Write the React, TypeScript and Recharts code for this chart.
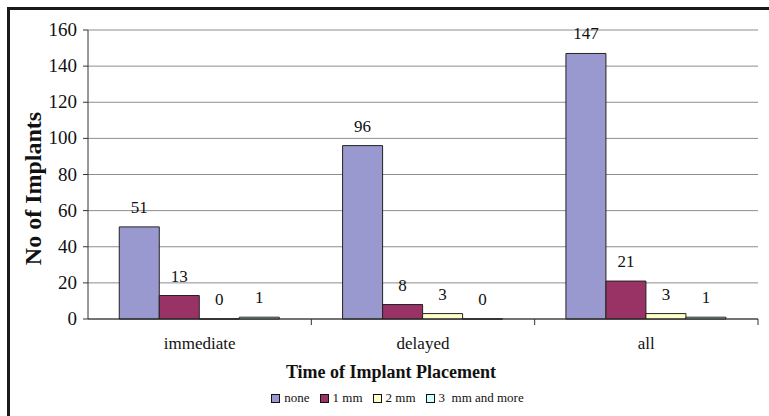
import React from 'react';
import {
  BarChart,
  Bar,
  XAxis,
  YAxis,
  CartesianGrid,
  Legend,
  LabelList,
} from 'recharts';

const placements = ['immediate', 'delayed', 'all'];
const noneValues = [51, 96, 147];
const oneMmValues = [13, 8, 21];
const twoMmValues = [0, 3, 3];
const threeMmValues = [1, 0, 1];
const yTicks = [0, 20, 40, 60, 80, 100, 120, 140, 160];

const seriesInfo = [
  { key: 'none', name: 'none', color: '#9999d0' },
  { key: 'one', name: '1 mm', color: '#993366' },
  { key: 'two', name: '2 mm', color: '#ffffcc' },
  { key: 'three', name: '3\u00a0 mm and more', color: '#ccffff' },
];

const data = placements.map((p, i) => ({
  placement: p,
  none: noneValues[i],
  one: oneMmValues[i],
  two: twoMmValues[i],
  three: threeMmValues[i],
}));

const FONT = 'Liberation Serif, serif';

// category label in the middle, tick mark on the right edge of the band
const CategoryTick = (props: any) => {
  const { x, y, payload } = props;
  const half = payload && payload.offset ? payload.offset : 670 / 6;
  return (
    <g>
      <line x1={x + half} x2={x + half} y1={y - 8} y2={y - 2} stroke="#333" />
      <text x={x} y={y + 22} textAnchor="middle" fontFamily={FONT} fontSize={17} fill="#111">
        {payload.value}
      </text>
    </g>
  );
};

const ValueTick = (props: any) => {
  const { x, y, payload } = props;
  return (
    <text x={x - 4} y={y + 6} textAnchor="end" fontFamily={FONT} fontSize={19} fill="#111">
      {payload.value}
    </text>
  );
};

const BarValue = (props: any) => {
  const { x, y, width, value } = props;
  return (
    <text x={x + width / 2} y={y - 14} textAnchor="middle" fontFamily={FONT} fontSize={17} fill="#111">
      {value}
    </text>
  );
};

const YLabel = (props: any) => {
  const vb = props.viewBox || { x: 0, y: 30, height: 288 };
  const cx = vb.x + 41;
  const cy = vb.y + vb.height / 2 + 14;
  return (
    <text
      x={cx}
      y={cy}
      transform={`rotate(-90 ${cx} ${cy})`}
      textAnchor="middle"
      fontFamily={FONT}
      fontWeight="bold"
      fontSize={24}
      fill="#111"
    >
      No of Implants
    </text>
  );
};

const XLabel = (props: any) => {
  const vb = props.viewBox || { x: 88, y: 318, width: 670 };
  return (
    <text
      x={vb.x + vb.width / 2 - 32}
      y={vb.y + 59}
      textAnchor="middle"
      fontFamily={FONT}
      fontWeight="bold"
      fontSize={18}
      fill="#111"
    >
      Time of Implant Placement
    </text>
  );
};

const LegendBox = () => (
  <div style={{ display: 'flex', justifyContent: 'center', fontFamily: FONT, fontSize: 13, color: '#111' }}>
    {seriesInfo.map((s) => (
      <span key={s.key} style={{ display: 'inline-flex', alignItems: 'center', marginRight: 10 }}>
        <span
          style={{
            display: 'inline-block',
            width: 7,
            height: 7,
            background: s.color,
            border: '1px solid #111',
            marginRight: 4,
          }}
        />
        {s.name}
      </span>
    ))}
  </div>
);

const App: React.FC = () => {
  return (
    <div style={{ position: 'absolute', left: 0, top: 0, width: 769, height: 416, background: '#fff' }}>
      <div
        style={{
          position: 'absolute',
          left: 7,
          top: 7,
          width: 762,
          height: 409,
          borderTop: '3px solid #1a1a1a',
          borderLeft: '3px solid #1a1a1a',
        }}
      />
      <div style={{ position: 'absolute', left: 0, top: 0 }}>
        <BarChart
          width={769}
          height={416}
          data={data}
          margin={{ top: 30, right: 11, left: 0, bottom: 31 }}
          barCategoryGap="14%"
          barGap={0}
        >
          <CartesianGrid vertical={false} stroke="#8c8c8c" />
          <XAxis
            dataKey="placement"
            height={50}
            tickLine={false}
            axisLine={{ stroke: '#222' }}
            tick={<CategoryTick />}
            interval={0}
            label={<XLabel />}
          />
          <YAxis
            width={88}
            domain={[0, 160]}
            ticks={yTicks}
            tickSize={5}
            tickLine={{ stroke: '#333' }}
            axisLine={{ stroke: '#333' }}
            tick={<ValueTick />}
            label={<YLabel />}
          />
          <YAxis
            yAxisId="frame"
            orientation="right"
            width={0}
            tick={false}
            tickLine={false}
            axisLine={{ stroke: '#999' }}
          />
          <Legend
            verticalAlign="bottom"
            content={<LegendBox />}
            wrapperStyle={{ left: 18, width: 769, bottom: 10 }}
          />
          {seriesInfo.map((s) => (
            <Bar
              key={s.key}
              dataKey={s.key}
              name={s.name}
              fill={s.color}
              stroke="#222"
              strokeWidth={1}
              minPointSize={(v: number) => (v === 0 ? 0.01 : 0)}
              isAnimationActive={false}
            >
              <LabelList dataKey={s.key} content={<BarValue />} />
            </Bar>
          ))}
        </BarChart>
      </div>
    </div>
  );
};

export default App;
